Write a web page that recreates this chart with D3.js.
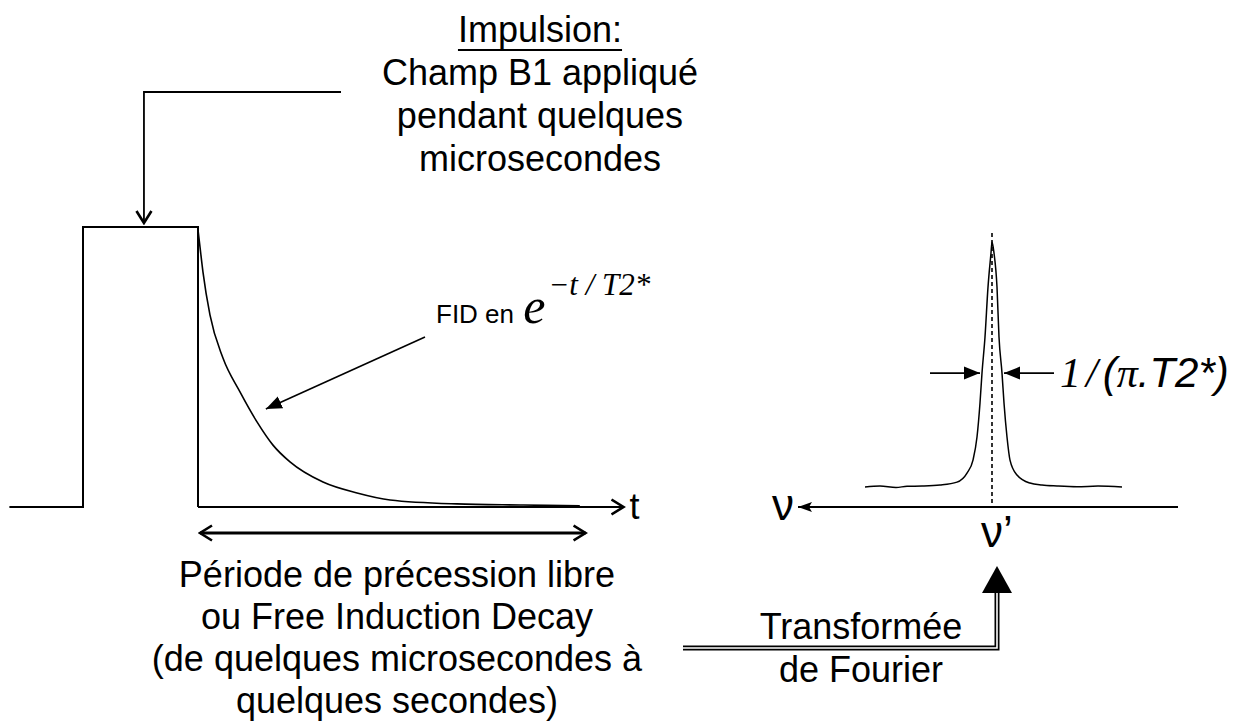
<!DOCTYPE html>
<html>
<head>
<meta charset="utf-8">
<script src="https://cdn.jsdelivr.net/npm/d3@7/dist/d3.min.js"></script>
<style>
  body { margin: 0; background: #fff; }
  text { font-family: "Liberation Sans", Arial, sans-serif; fill: #000; }
</style>
</head>
<body>
<svg id="chart"></svg>
<script>
// ------------------------------------------------------------------
//  Impulsion RMN -> FID -> transformée de Fourier
// ------------------------------------------------------------------

var width = 1245,
    height = 722;

// pulse: time in units of the pulse length, amplitude normalised
var pulseT = [-0.64, 0, 0, 1, 1];
var pulseA = [0, 0, 1, 1, 0];

// FID decay (time after end of pulse)
var fidT = [0, 0.017, 0.043, 0.104, 0.217, 0.365, 0.513, 0.652, 0.8, 1.087, 1.383, 1.67, 2.25, 2.83, 3.32];
var fidA = [0.99, 0.93, 0.84, 0.686, 0.532, 0.411, 0.304, 0.221, 0.161, 0.089, 0.05, 0.025, 0.011, 0.007, 0.004];

// spectrum: offset from nu' (in half-widths), amplitude normalised
var specD = [12.7, 11.2, 9.6, 8.5, 7.0, 5.2, 3.5, 2.5, 1.9, 1.5, 1.2, 1.0, 0.7, 0.4, 0.1, 0,
             -0.2, -0.5, -0.7, -1.0, -1.2, -1.5, -1.8, -2.5, -3.8, -5.0, -6.5, -8.5, -10.6, -13.0];
var specA = [0, 0.004, -0.002, 0.003, 0.004, 0.008, 0.02, 0.057, 0.11, 0.204, 0.343, 0.465, 0.612, 0.816, 0.955, 1,
             0.955, 0.816, 0.612, 0.465, 0.343, 0.204, 0.11, 0.049, 0.016, 0.008, 0.004, 0.001, 0.004, 0.0];
var halfWidth = 1.0;

// texts
var pulseTitle = "Impulsion:";
var pulseLines = ["Champ B1 appliqué", "pendant quelques", "microsecondes"];
var fidLines = ["Période de précession libre", "ou Free Induction Decay",
                "(de quelques microsecondes à", "quelques secondes)"];
var ftLines = ["Transformée", "de Fourier"];

var svg = d3.select("#chart")
  .attr("width", width)
  .attr("height", height);

// markers
var defs = svg.append("defs");
defs.append("marker")
    .attr("id", "chevron")
    .attr("viewBox", "-13 -9 15 18")
    .attr("refX", 0).attr("refY", 0)
    .attr("markerWidth", 15).attr("markerHeight", 18)
    .attr("markerUnits", "userSpaceOnUse")
    .attr("orient", "auto-start-reverse")
  .append("path")
    .attr("d", "M-12,-7.5 L0,0 L-12,7.5")
    .attr("fill", "none")
    .attr("stroke", "#000")
    .attr("stroke-width", 2.6);
defs.append("marker")
    .attr("id", "tri")
    .attr("viewBox", "-16 -7 16 14")
    .attr("refX", 0).attr("refY", 0)
    .attr("markerWidth", 16).attr("markerHeight", 14)
    .attr("markerUnits", "userSpaceOnUse")
    .attr("orient", "auto")
  .append("path")
    .attr("d", "M-16,-6.5 L0,0 L-16,6.5 Z")
    .attr("fill", "#000");
defs.append("marker")
    .attr("id", "triSmall")
    .attr("viewBox", "-14 -5 14 10")
    .attr("refX", 0).attr("refY", 0)
    .attr("markerWidth", 14).attr("markerHeight", 10)
    .attr("markerUnits", "userSpaceOnUse")
    .attr("orient", "auto")
  .append("path")
    .attr("d", "M-14,-5 L0,0 L-14,5 L-11,0 Z")
    .attr("fill", "#000");

// ---------------- left: pulse + FID ----------------
var xL = d3.scaleLinear().domain([0, 1]).range([83, 198]);
var yL = d3.scaleLinear().domain([0, 1]).range([507, 227]);
var tEnd = 4.7;

var pulseLine = d3.line()
  .x(function (d, i) { return xL(pulseT[i]); })
  .y(function (d, i) { return yL(pulseA[i]); });

svg.append("path")
  .attr("d", pulseLine(pulseT))
  .attr("fill", "none")
  .attr("stroke", "#000")
  .attr("stroke-width", 2);

// time axis
svg.append("line")
  .attr("x1", xL(1)).attr("y1", yL(0))
  .attr("x2", xL(tEnd)).attr("y2", yL(0))
  .attr("stroke", "#000")
  .attr("stroke-width", 2.2)
  .attr("marker-end", "url(#chevron)");
svg.append("text")
  .attr("x", xL(tEnd) + 6)
  .attr("y", yL(0) + 12)
  .attr("font-size", 36)
  .text("t");

// FID
var fidLine = d3.line()
  .x(function (d, i) { return xL(1 + fidT[i]); })
  .y(function (d, i) { return yL(fidA[i]); })
  .curve(d3.curveMonotoneX);
svg.append("path")
  .attr("d", fidLine(fidT))
  .attr("fill", "none")
  .attr("stroke", "#000")
  .attr("stroke-width", 1.6);

// duration double arrow
svg.append("line")
  .attr("x1", xL(1) + 2).attr("y1", yL(0) + 26)
  .attr("x2", xL(1 + 3.37)).attr("y2", yL(0) + 26)
  .attr("stroke", "#000")
  .attr("stroke-width", 3)
  .attr("marker-start", "url(#chevron)")
  .attr("marker-end", "url(#chevron)");

// pulse annotation arrow
var px = xL(0.53);
svg.append("path")
  .attr("d", "M341,92 L" + px + ",92 L" + px + "," + (yL(1) - 4))
  .attr("fill", "none")
  .attr("stroke", "#000")
  .attr("stroke-width", 1.8)
  .attr("marker-end", "url(#chevron)");

// FID pointer
svg.append("line")
  .attr("x1", 425).attr("y1", 337)
  .attr("x2", xL(1.59)).attr("y2", yL(0.35))
  .attr("stroke", "#000")
  .attr("stroke-width", 1.6)
  .attr("marker-end", "url(#tri)");

// text blocks (baselines)
function textBlock(lines, cx, y0, dy, size) {
  var g = svg.append("g");
  lines.forEach(function (s, i) {
    g.append("text")
      .attr("x", cx)
      .attr("y", y0 + i * dy)
      .attr("text-anchor", "middle")
      .attr("font-size", size)
      .text(s);
  });
  return g;
}

var fs = 36;
var title = svg.append("text")
  .attr("x", 540).attr("y", 42)
  .attr("text-anchor", "middle")
  .attr("font-size", fs)
  .text(pulseTitle);
var tb = title.node().getBBox();
svg.append("line")
  .attr("x1", tb.x).attr("x2", tb.x + tb.width)
  .attr("y1", 50).attr("y2", 50)
  .attr("stroke", "#000").attr("stroke-width", 2.2);

textBlock(pulseLines, 540, 85, 43, fs);
textBlock(fidLines, 397, 587, 42, fs);
textBlock(ftLines, 861, 639, 43, fs);

// FID formula
var formula = svg.append("text")
  .attr("x", 436).attr("y", 323);
formula.append("tspan")
  .attr("font-size", 26)
  .text("FID en ");
formula.append("tspan")
  .attr("font-family", "Liberation Serif, Times New Roman, serif")
  .attr("font-style", "italic")
  .attr("font-size", 50)
  .attr("dx", 2)
  .text("e");
formula.append("tspan")
  .attr("font-family", "Liberation Serif, Times New Roman, serif")
  .attr("font-style", "italic")
  .attr("font-size", 31)
  .attr("dx", 3)
  .attr("dy", -28)
  .text("\u2212t / T2*");

// ---------------- right: spectrum ----------------
var xF = d3.scaleLinear().domain([0, 1]).range([992, 982]); // nu grows to the left
var yF = d3.scaleLinear().domain([0, 1]).range([487, 242]);
var axisY = 507;

// frequency axis
svg.append("line")
  .attr("x1", xF(-18.6)).attr("y1", axisY)
  .attr("x2", xF(19.4)).attr("y2", axisY)
  .attr("stroke", "#000")
  .attr("stroke-width", 2)
  .attr("marker-end", "url(#triSmall)");
svg.append("text")
  .attr("x", xF(19.4) - 4)
  .attr("y", axisY + 13)
  .attr("text-anchor", "end")
  .attr("font-family", "Liberation Serif, Times New Roman, serif")
  .attr("font-size", 44)
  .text("\u03bd");
svg.append("text")
  .attr("x", xF(0) + 5)
  .attr("y", axisY + 40)
  .attr("text-anchor", "middle")
  .attr("font-family", "Liberation Serif, Times New Roman, serif")
  .attr("font-size", 44)
  .text("\u03bd\u2019");

// dashed centre line
svg.append("line")
  .attr("x1", xF(0)).attr("y1", yF(1) - 9)
  .attr("x2", xF(0)).attr("y2", axisY)
  .attr("stroke", "#000")
  .attr("stroke-width", 1.6)
  .attr("stroke-dasharray", "4,3");

// peak
var specLine = d3.line()
  .x(function (d, i) { return xF(specD[i]); })
  .y(function (d, i) { return yF(specA[i]); })
  .curve(d3.curveMonotoneX);
svg.append("path")
  .attr("d", specLine(specD))
  .attr("fill", "none")
  .attr("stroke", "#000")
  .attr("stroke-width", 1.5);

// width arrows at half height
var hy = yF(0.465);
svg.append("line")
  .attr("x1", xF(halfWidth) - 52).attr("y1", hy)
  .attr("x2", xF(halfWidth) - 2).attr("y2", hy)
  .attr("stroke", "#000").attr("stroke-width", 1.6)
  .attr("marker-end", "url(#tri)");
svg.append("line")
  .attr("x1", xF(-halfWidth) + 52).attr("y1", hy)
  .attr("x2", xF(-halfWidth) + 2).attr("y2", hy)
  .attr("stroke", "#000").attr("stroke-width", 1.6)
  .attr("marker-end", "url(#tri)");

var lbl = svg.append("text")
  .attr("x", xF(-halfWidth) + 58)
  .attr("y", hy + 14)
  .attr("font-size", 42)
  .attr("font-style", "italic");
lbl.append("tspan").attr("font-family", "Liberation Serif, serif").text("1");
lbl.append("tspan").attr("font-family", "Liberation Serif, serif").attr("dx", 5).text("/");
lbl.append("tspan").attr("dx", 5).text("(");
lbl.append("tspan").attr("font-family", "Liberation Serif, serif").text("\u03c0");
lbl.append("tspan").text(".T2*)");

// Fourier transform arrow (double line)
var ax = xF(0) + 5;
var ftPath = "M683,648 L" + ax + ",648 L" + ax + ",590";
svg.append("path")
  .attr("d", ftPath)
  .attr("fill", "none")
  .attr("stroke", "#000")
  .attr("stroke-width", 5)
  .attr("stroke-linejoin", "miter");
svg.append("path")
  .attr("d", ftPath)
  .attr("fill", "none")
  .attr("stroke", "#fff")
  .attr("stroke-width", 1.6)
  .attr("stroke-linejoin", "miter");
svg.append("path")
  .attr("d", "M" + (ax - 15) + ",593 L" + ax + ",566 L" + (ax + 15) + ",593 Z")
  .attr("fill", "#000");
</script>
</body>
</html>
